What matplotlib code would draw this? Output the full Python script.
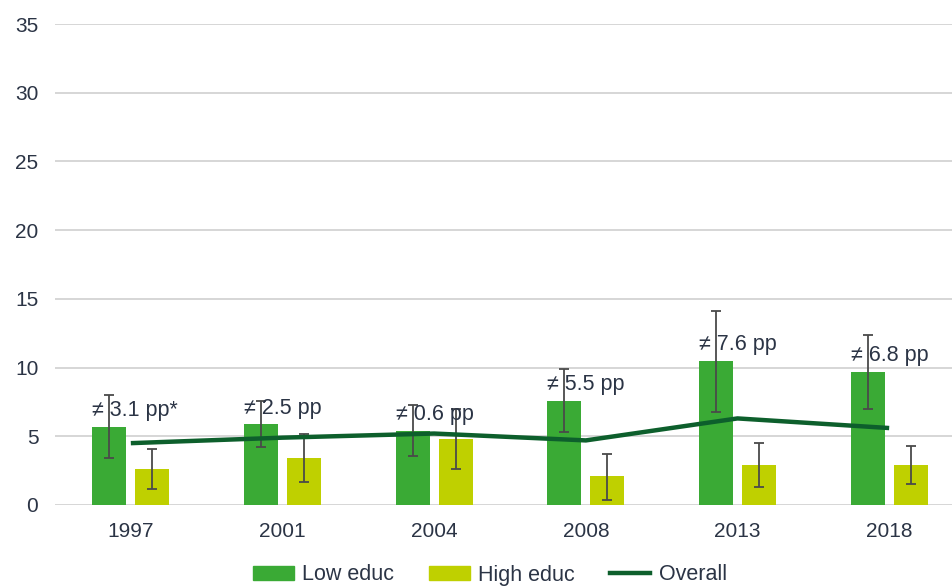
import numpy as np
import matplotlib
matplotlib.use('Agg')
import matplotlib.pyplot as plt
from matplotlib.patches import Patch
from matplotlib.lines import Line2D

plt.rcParams['font.family'] = ['Liberation Sans', 'DejaVu Sans']

years = ['1997', '2001', '2004', '2008', '2013', '2018']
low = [5.7, 5.9, 5.4, 7.6, 10.5, 9.7]
low_lo = [3.4, 4.2, 3.6, 5.3, 6.8, 7.0]
low_hi = [8.0, 7.6, 7.3, 9.9, 14.1, 12.4]
high = [2.6, 3.4, 4.8, 2.1, 2.9, 2.9]
high_lo = [1.2, 1.7, 2.6, 0.4, 1.3, 1.5]
high_hi = [4.1, 5.2, 7.0, 3.7, 4.5, 4.3]
overall = [4.5, 4.9, 5.2, 4.7, 6.3, 5.6]
gap_labels = ['≠ 3.1 pp*', '≠ 2.5 pp', '≠ 0.6 pp', '≠ 5.5 pp', '≠ 7.6 pp', '≠ 6.8 pp']

c_low = '#3aaa35'
c_high = '#bfd000'
c_line = '#0d5f2c'
c_text = '#2b3445'

fig = plt.figure(figsize=(9.52, 5.86), dpi=100)
ax = fig.add_axes([55 / 952, 1 - 505 / 586, 910 / 952, 481 / 586])

x = np.arange(len(years))
w = 0.224
off = 0.142

low_err = [np.array(low) - np.array(low_lo), np.array(low_hi) - np.array(low)]
high_err = [np.array(high) - np.array(high_lo), np.array(high_hi) - np.array(high)]

ax.bar(x - off, low, w, color=c_low, zorder=2)
ax.bar(x + off, high, w, color=c_high, zorder=2)
ax.errorbar(x - off, low, yerr=low_err, fmt='none', ecolor='#4a4a4a',
            elinewidth=1.3, capsize=3.3, capthick=1.3, zorder=3)
ax.errorbar(x + off, high, yerr=high_err, fmt='none', ecolor='#4a4a4a',
            elinewidth=1.3, capsize=3.3, capthick=1.3, zorder=3)
ax.plot(x, overall, color=c_line, lw=3.2, zorder=4, solid_capstyle='butt')

for i, lab in enumerate(gap_labels):
    ax.text(x[i] - off - w / 2, low[i] + 1.15, lab, ha='left', va='center',
            fontsize=15.5, color=c_text, zorder=5)

ax.set_xlim(-0.5, len(years) - 0.5)
ax.set_ylim(0, 35)
ax.set_yticks(range(0, 36, 5))
ax.set_xticks(x)
ax.set_xticklabels(years)
ax.grid(axis='y', color='#d0d0d0', lw=1.2, zorder=0)
ax.set_axisbelow(True)
for s in ax.spines.values():
    s.set_visible(False)
ax.tick_params(axis='both', length=0, labelsize=15, labelcolor=c_text)
ax.tick_params(axis='x', pad=12)
ax.tick_params(axis='y', pad=12)

handles = [Patch(color=c_low), Patch(color=c_high), Line2D([], [], color=c_line, lw=3.2)]
fig.legend(handles, ['Low educ', 'High educ', 'Overall'], loc='center',
           bbox_to_anchor=(490 / 952, 1 - 575 / 586), ncol=3, frameon=False,
           fontsize=15.5, labelcolor=c_text, handlelength=1.9, handleheight=0.65,
           handletextpad=0.4, columnspacing=1.6)

fig.savefig('out.png', dpi=100)
